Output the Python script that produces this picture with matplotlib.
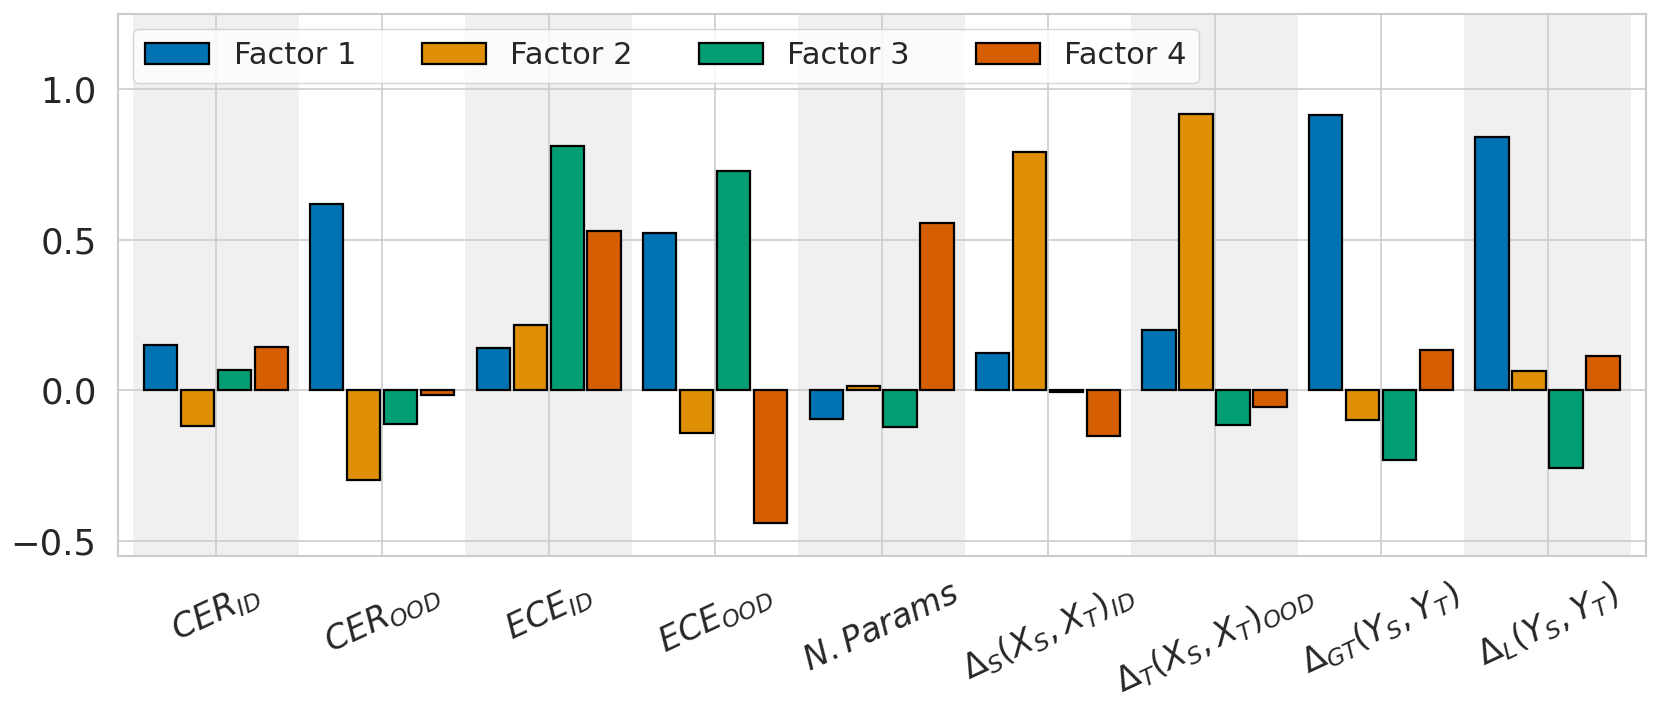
import numpy as np
import matplotlib
matplotlib.use('Agg')
import matplotlib.pyplot as plt
import seaborn as sns

sns.set_theme(style='whitegrid', palette='colorblind')

labels = [
    r'$CER_{ID}$',
    r'$CER_{OOD}$',
    r'$ECE_{ID}$',
    r'$ECE_{OOD}$',
    r'$N.Params$',
    r'$\Delta_S(X_S, X_T)_{ID}$',
    r'$\Delta_T(X_S, X_T)_{OOD}$',
    r'$\Delta_{GT}(Y_S, Y_T)$',
    r'$\Delta_L(Y_S, Y_T)$',
]

factor_names = ['Factor 1', 'Factor 2', 'Factor 3', 'Factor 4']

factor1 = [0.150, 0.620, 0.142, 0.522, -0.094, 0.124, 0.199, 0.914, 0.843]
factor2 = [-0.119, -0.297, 0.218, -0.140, 0.015, 0.791, 0.918, -0.099, 0.064]
factor3 = [0.069, -0.111, 0.813, 0.729, -0.122, -0.004, -0.114, -0.231, -0.259]
factor4 = [0.143, -0.015, 0.528, -0.441, 0.556, -0.151, -0.056, 0.135, 0.113]

factors = [factor1, factor2, factor3, factor4]
colors = sns.color_palette('colorblind', 4)

fig = plt.figure(figsize=(16.6, 7.17), dpi=100)
ax = fig.add_axes([0.0708, 0.2245, 0.9206, 0.756])

x = np.arange(len(labels))

# alternate shading per category
for i in range(0, len(labels), 2):
    ax.axvspan(i - 0.5, i + 0.5, color='#f0f0f0', zorder=0, lw=0)

width = 0.2
step = 0.222
for k, vals in enumerate(factors):
    ax.bar(x + (k - 1.5) * step, vals, width=width, color=colors[k],
           edgecolor='black', linewidth=1.6, label=factor_names[k], zorder=3)

ax.set_xlim(-0.59, 8.59)
ax.set_ylim(-0.55, 1.25)
ax.set_yticks([-0.5, 0.0, 0.5, 1.0])
ax.set_xticks(x)
ax.set_xticklabels(labels, rotation=25, ha='center')
ax.tick_params(axis='y', labelsize=25.5, pad=15, length=0, colors='.15')
ax.tick_params(axis='x', labelsize=24, pad=15, length=0, colors='.15')

for s in ax.spines.values():
    s.set_color('.8')
    s.set_linewidth(1.5)
ax.grid(True, color='.8', linewidth=1.2)

ax.legend(loc='upper left', ncol=4, fontsize=22, frameon=True,
          edgecolor='.8', borderaxespad=0.5, handlelength=2.1,
          columnspacing=2.15)

fig.savefig('out.png', dpi=100)
